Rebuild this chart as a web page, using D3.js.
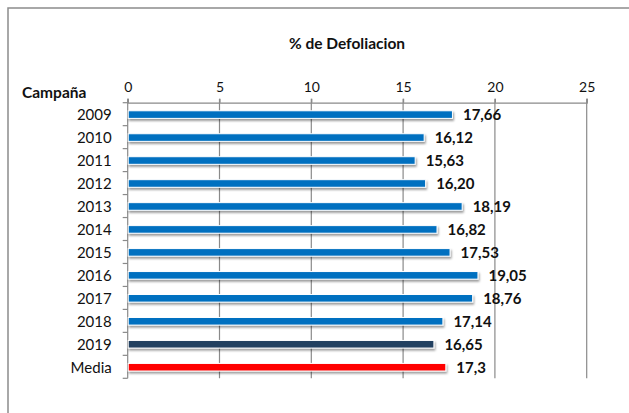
<!DOCTYPE html>
<html><head><meta charset="utf-8">
<script src="https://cdn.jsdelivr.net/npm/d3@7"></script>
<style>
html,body{margin:0;padding:0;background:#fff;}
svg{display:block;font-family:Lato,"Liberation Sans",sans-serif;}
</style></head>
<body>
<svg id="chart" width="629" height="413"></svg>
<script>
const categories = ["2009","2010","2011","2012","2013","2014","2015","2016","2017","2018","2019","Media"];
const values = [17.66,16.12,15.63,16.20,18.19,16.82,17.53,19.05,18.76,17.14,16.65,17.3];
const valueLabels = ["17,66","16,12","15,63","16,20","18,19","16,82","17,53","19,05","18,76","17,14","16,65","17,3"];
const barColors = ["#0070C0","#0070C0","#0070C0","#0070C0","#0070C0","#0070C0","#0070C0","#0070C0","#0070C0","#0070C0","#243F60","#FF0000"];
const xTicks = [0,5,10,15,20,25];
const titleText = "% de Defoliacion";
const yTitle = "Campaña";

(function(){
const svg = d3.select("#chart");
const defs = svg.append("defs");
const f = defs.append("filter").attr("id","sh").attr("x","-5%").attr("y","-50%").attr("width","110%").attr("height","250%");
f.append("feDropShadow").attr("dx",1).attr("dy",2).attr("stdDeviation",1.2).attr("flood-color","#000").attr("flood-opacity",0.4);

svg.append("rect").attr("x",8).attr("y",8).attr("width",700).attr("height",500)
  .attr("fill","none").attr("stroke","#8c8c8c").attr("stroke-width",1.5);

const pl = 127.7, pr = 586.7, pt = 102.7, pb = 378.3;
const x = d3.scaleLinear().domain([0,25]).range([pl,pr]);
const y = d3.scaleBand().domain(categories).range([pt,pb]).paddingInner(0.66).paddingOuter(0.33);

svg.append("g").selectAll("line").data(xTicks.slice(1)).join("line")
  .attr("x1",d=>x(d)).attr("x2",d=>x(d)).attr("y1",pt-4).attr("y2",pb)
  .attr("stroke","#8a8a8a").attr("stroke-width",1.2);
const xAxis = d3.axisTop(x).tickValues(xTicks).tickSize(4).tickPadding(7).tickFormat(d3.format("d"));
const ax = svg.append("g").attr("transform",`translate(0,${pt})`).call(xAxis);
ax.select(".domain").attr("stroke","#8a8a8a").attr("stroke-width",1.2);
ax.selectAll(".tick line").attr("stroke","#8a8a8a").attr("stroke-width",1.2);
ax.selectAll(".tick text").attr("font-family","Lato").attr("font-size",14).attr("fill","#111");

const yEdges = d3.range(categories.length+1).map(i=>pt+i*(pb-pt)/categories.length);
svg.append("line").attr("x1",pl).attr("x2",pl).attr("y1",pt-4).attr("y2",pb)
  .attr("stroke","#8a8a8a").attr("stroke-width",1.2);
svg.append("g").selectAll("line").data(yEdges).join("line")
  .attr("x1",pl-5).attr("x2",pl).attr("y1",d=>d).attr("y2",d=>d)
  .attr("stroke","#8a8a8a").attr("stroke-width",1.2);
const yAxis = d3.axisLeft(d3.scaleBand().domain(categories).range([pt,pb])).tickSize(0).tickPadding(16);
const ay = svg.append("g").attr("transform",`translate(${pl},0)`).call(yAxis);
ay.select(".domain").remove();
ay.selectAll(".tick text").attr("font-family","Lato").attr("font-size",15).attr("fill","#111").attr("dy","0.4em");

const bh = 7.6;
svg.append("g").selectAll("rect").data(values).join("rect")
  .attr("x",x(0)+0.5)
  .attr("y",(d,i)=>y(categories[i])+y.bandwidth()/2-bh/2+0.4)
  .attr("width",d=>x(d)-x(0))
  .attr("height",bh)
  .attr("fill",(d,i)=>barColors[i])
  .attr("stroke","#fff").attr("stroke-width",1)
  .attr("filter","url(#sh)");

svg.append("g").selectAll("text").data(values).join("text")
  .attr("x",d=>x(d)+11)
  .attr("y",(d,i)=>y(categories[i])+y.bandwidth()/2+6)
  .attr("font-family","Lato").attr("font-weight","bold").attr("font-size",15).attr("fill","#111")
  .text((d,i)=>valueLabels[i]);

svg.append("text").attr("x",347).attr("y",49).attr("text-anchor","middle")
  .attr("font-family","Lato").attr("font-weight","bold").attr("font-size",15.5).attr("fill","#111").text(titleText);
svg.append("text").attr("x",22).attr("y",98)
  .attr("font-family","Lato").attr("font-weight","bold").attr("font-size",15.5).attr("fill","#111").text(yTitle);
})();
</script>
</body></html>
